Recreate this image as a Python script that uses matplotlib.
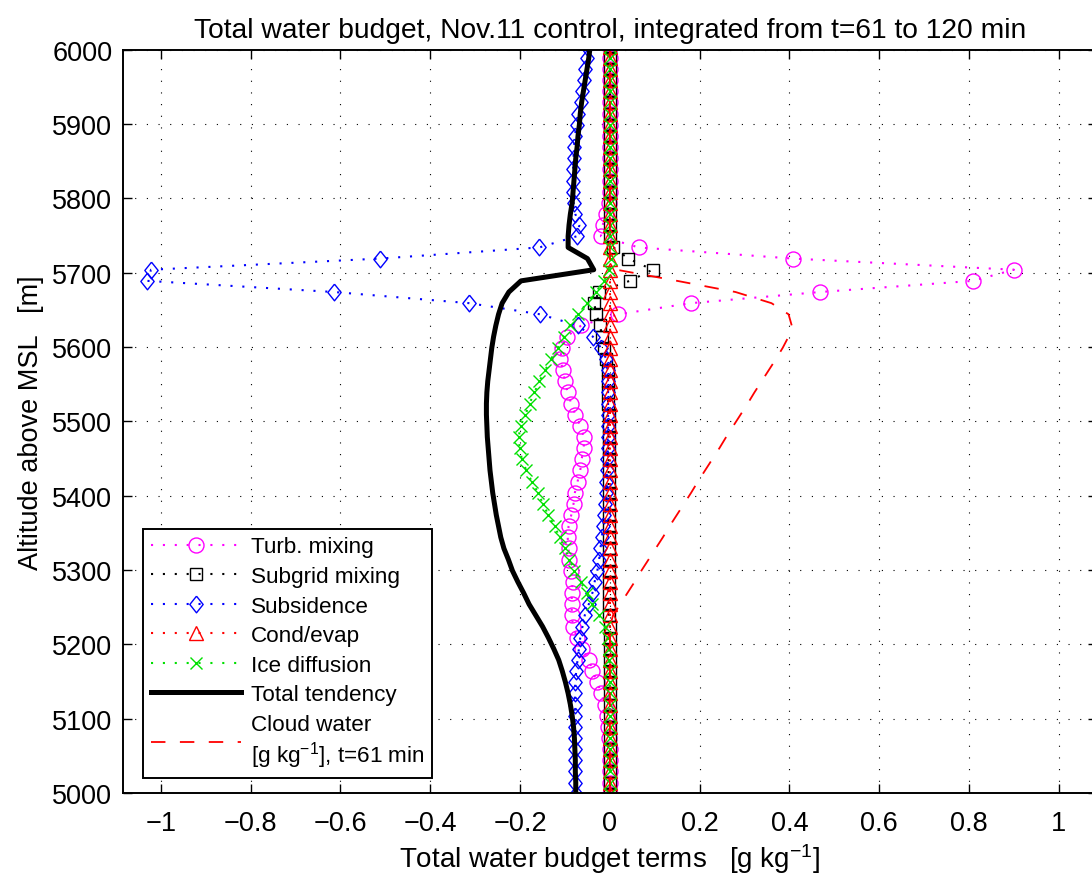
''' total water budget profile, Nov.11 control run '''

import matplotlib.pyplot as plt
from matplotlib.ticker import FuncFormatter

# altitude levels [m]
altitude = [4999, 5014, 5029, 5044, 5059, 5074, 5089, 5104, 5119, 5134,
            5149, 5164, 5179, 5194, 5209, 5224, 5239, 5254, 5269, 5284,
            5299, 5314, 5329, 5344, 5359, 5374, 5389, 5404, 5419, 5434,
            5449, 5464, 5479, 5494, 5509, 5524, 5539, 5554, 5569, 5584,
            5599, 5614, 5629, 5644, 5659, 5674, 5689, 5704, 5719, 5734,
            5749, 5764, 5779, 5794, 5809, 5824, 5839, 5854, 5869, 5884,
            5899, 5914, 5929, 5944, 5959, 5974, 5989, 6004]

# budget terms [g/kg], integrated t=61..120 min
turb_mixing = [0, 0, 0, 0, 0, -0.001, -0.004, -0.007, -0.011, -0.019,
               -0.028, -0.039, -0.046, -0.063, -0.073, -0.082, -0.085, -0.085, -0.085, -0.083,
               -0.086, -0.090, -0.092, -0.094, -0.092, -0.086, -0.081, -0.078, -0.072, -0.066,
               -0.063, -0.058, -0.058, -0.066, -0.077, -0.086, -0.094, -0.100, -0.105, -0.110,
               -0.107, -0.096, -0.064, 0.018, 0.180, 0.468, 0.808, 0.900, 0.408, 0.064,
               -0.020, -0.016, -0.009, -0.003, 0, 0, 0, 0, 0, 0,
               0, 0, 0, 0, 0, 0, 0, 0]

subgrid_mixing = [0, 0, 0, 0, 0, 0, 0, 0, 0, 0,
                  0, 0, 0, 0, 0, 0, -0.002, -0.003, -0.003, -0.003,
                  -0.003, -0.003, -0.003, -0.003, -0.003, -0.003, -0.003, -0.003, -0.003, -0.003,
                  -0.003, -0.003, -0.003, -0.003, -0.003, -0.004, -0.004, -0.004, -0.005, -0.008,
                  -0.013, -0.017, -0.022, -0.030, -0.035, -0.025, 0.044, 0.095, 0.041, 0.008,
                  0, 0, 0, 0, 0, 0, 0, 0, 0, 0,
                  0, 0, 0, 0, 0, 0, 0, 0]

subsidence = [-0.076, -0.077, -0.077, -0.077, -0.078, -0.078, -0.078, -0.078, -0.078, -0.078,
              -0.077, -0.075, -0.072, -0.069, -0.066, -0.061, -0.056, -0.047, -0.039, -0.034,
              -0.028, -0.024, -0.021, -0.018, -0.015, -0.013, -0.011, -0.009, -0.008, -0.007,
              -0.006, -0.005, -0.005, -0.004, -0.004, -0.004, -0.004, -0.004, -0.005, -0.008,
              -0.020, -0.038, -0.072, -0.155, -0.313, -0.614, -1.030, -1.022, -0.512, -0.157,
              -0.074, -0.068, -0.077, -0.081, -0.082, -0.082, -0.082, -0.081, -0.080, -0.078,
              -0.074, -0.070, -0.065, -0.062, -0.058, -0.055, -0.052, -0.050]

cond_evap = [0] * 68

ice_diffusion = [0, 0, 0, 0, 0, 0, 0, 0, 0, 0,
                 0, 0, -0.001, -0.003, -0.004, -0.010, -0.024, -0.040, -0.052, -0.065,
                 -0.079, -0.090, -0.100, -0.112, -0.123, -0.137, -0.149, -0.160, -0.174, -0.186,
                 -0.196, -0.201, -0.203, -0.199, -0.188, -0.179, -0.168, -0.157, -0.144, -0.131,
                 -0.116, -0.103, -0.089, -0.072, -0.051, -0.031, -0.013, -0.002, 0.002, 0.001,
                 0, 0, 0, 0, 0, 0, 0, 0, 0, 0,
                 0, 0, 0, 0, 0, 0, 0, 0]

total_tendency = [-0.076, -0.076, -0.077, -0.077, -0.078, -0.079, -0.081, -0.084, -0.088, -0.093,
                  -0.099, -0.106, -0.114, -0.125, -0.137, -0.150, -0.165, -0.180, -0.192, -0.205,
                  -0.217, -0.226, -0.236, -0.243, -0.248, -0.253, -0.257, -0.261, -0.264, -0.267,
                  -0.269, -0.271, -0.273, -0.274, -0.275, -0.275, -0.274, -0.272, -0.269, -0.266,
                  -0.263, -0.259, -0.254, -0.248, -0.240, -0.225, -0.198, -0.036, -0.050, -0.093,
                  -0.093, -0.091, -0.088, -0.084, -0.082, -0.080, -0.078, -0.076, -0.073, -0.071,
                  -0.068, -0.066, -0.063, -0.059, -0.055, -0.051, -0.047, -0.044]

# cloud water mixing ratio at t=61 min [g/kg]
cloud_water = [0, 0, 0, 0, 0, 0, 0, 0, 0, 0,
               0, 0, 0, 0, 0, 0, 0.007, 0.023, 0.039, 0.055,
               0.070, 0.086, 0.102, 0.118, 0.133, 0.149, 0.165, 0.181, 0.196, 0.212,
               0.228, 0.244, 0.259, 0.275, 0.291, 0.307, 0.322, 0.338, 0.354, 0.370,
               0.385, 0.398, 0.405, 0.398, 0.360, 0.280, 0.150, 0.015, 0, 0,
               0, 0, 0, 0, 0, 0, 0, 0, 0, 0,
               0, 0, 0, 0, 0, 0, 0, 0]

x_ticks = [-1, -0.8, -0.6, -0.4, -0.2, 0, 0.2, 0.4, 0.6, 0.8, 1]
y_ticks = [5000, 5100, 5200, 5300, 5400, 5500, 5600, 5700, 5800, 5900, 6000]

# MATLAB-style diamond, a bit taller than wide
DIAMOND = [(0, 1), (0.8, 0), (0, -1), (-0.8, 0), (0, 1)]


def main():
    ''' main '''
    plt.rcParams['font.family'] = ['Liberation Sans', 'DejaVu Sans']
    plt.rcParams['mathtext.fontset'] = 'custom'
    plt.rcParams['mathtext.rm'] = 'Liberation Sans'
    plt.rcParams['mathtext.it'] = 'Liberation Sans'

    fig = plt.figure(figsize=(10.92, 8.79), dpi=100)
    ax = fig.add_axes([0.1124, 0.0967, 0.8922, 0.8456])

    dots = (0, (1, 4.7))
    mk = dict(markerfacecolor='none', markeredgewidth=1.0, linewidth=1.5, linestyle=dots)

    ax.plot(turb_mixing, altitude, color='magenta', marker='o', markersize=10.8,
            label='Turb. mixing', **mk)
    ax.plot(subgrid_mixing, altitude, color='black', marker='s', markersize=8.5,
            label='Subgrid mixing', **mk)
    ax.plot(subsidence, altitude, color='blue', marker=DIAMOND, markersize=12,
            label='Subsidence', **mk)
    ax.plot(cond_evap, altitude, color='red', marker='^', markersize=10,
            label='Cond/evap', **mk)
    ax.plot(ice_diffusion, altitude, color='#00e000', marker='x', markersize=9,
            label='Ice diffusion', **mk)
    ax.plot(total_tendency, altitude, color='black', linewidth=3.6,
            label='Total tendency')
    ax.plot(cloud_water, altitude, color='red', linewidth=1.3, linestyle=(0, (8, 8)),
            label='Cloud water\n[g kg$^{-1}$], t=61 min')

    ax.set_xlim(-1.085, 1.085)
    ax.set_ylim(5000, 6000)
    ax.set_xticks(x_ticks)
    ax.set_yticks(y_ticks)
    ax.xaxis.set_major_formatter(FuncFormatter(lambda v, p: ('%g' % v).replace('-', '\u2212')))
    ax.tick_params(direction='in', length=6.5, width=1.0, labelsize=19.5,
                   top=True, right=True)
    ax.tick_params(axis='x', pad=12)
    ax.tick_params(axis='y', pad=7.5)
    for sp in ax.spines.values():
        sp.set_linewidth(1.4)

    ax.grid(True, color='black', linewidth=0.8, linestyle=(0, (1, 9.5)))

    ax.set_title('Total water budget, Nov.11 control, integrated from t=61 to 120 min',
                 fontsize=20.3, pad=9)
    ax.set_xlabel('Total water budget terms   [g kg$^{-1}$]', fontsize=20, labelpad=4)
    ax.set_ylabel('Altitude above MSL   [m]', fontsize=19.5, labelpad=6)

    leg = ax.legend(loc='lower left', bbox_to_anchor=(0.0205, 0.0202), borderaxespad=0,
                    fontsize=16.2, numpoints=1, handlelength=4.0, handletextpad=0.45,
                    labelspacing=0.38, borderpad=0.35, fancybox=False, framealpha=1)
    leg.get_frame().set_edgecolor('black')
    leg.get_frame().set_linewidth(1.4)

    fig.savefig('out.png', dpi=100)


if __name__ == '__main__':
    main()
